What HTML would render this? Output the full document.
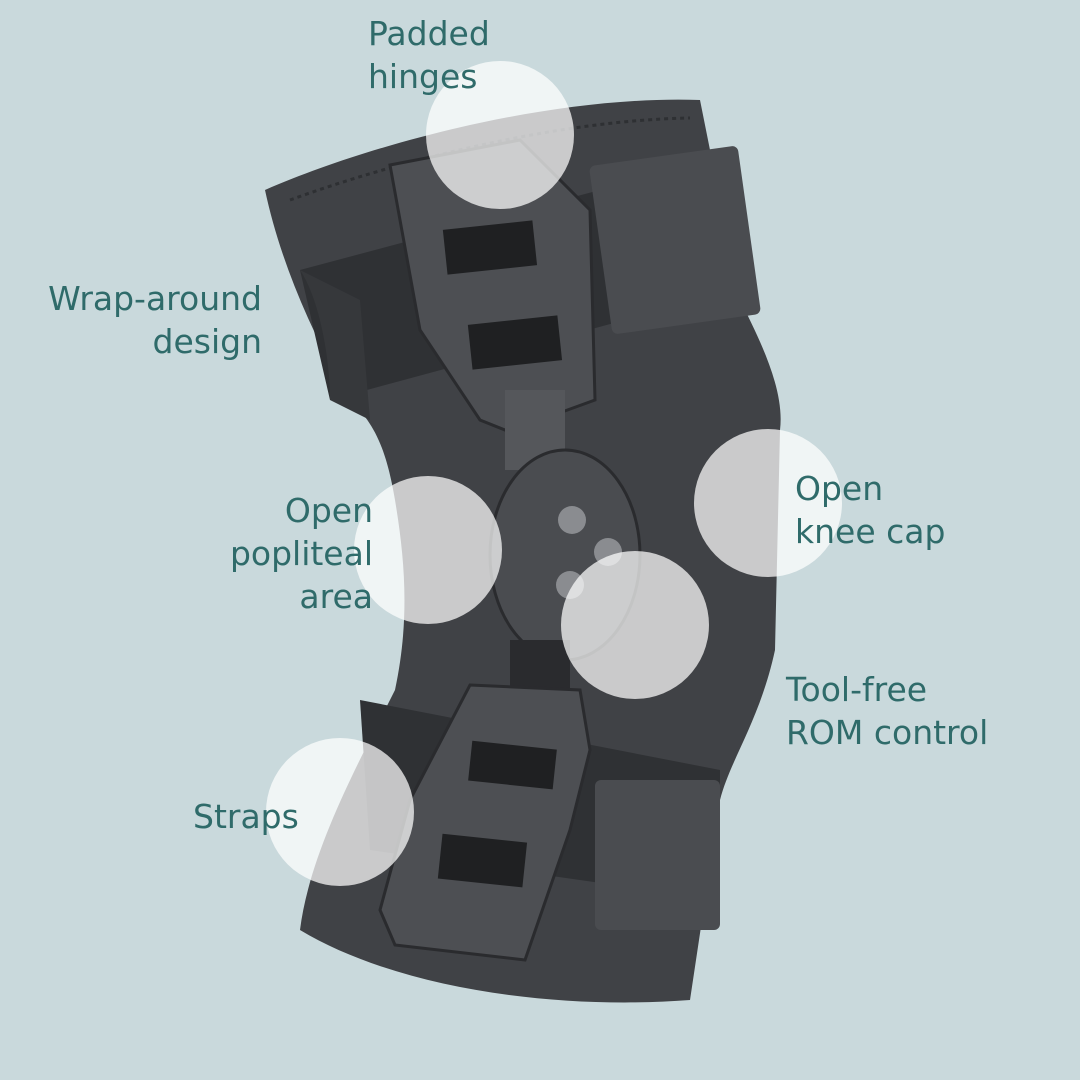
<!DOCTYPE html>
<html><head><meta charset="utf-8"><style>
html,body{margin:0;padding:0;width:1080px;height:1080px;overflow:hidden;background:#c9d9dc}
svg{display:block}
text{font-family:"DejaVu Sans","Liberation Sans",sans-serif;font-size:33px;fill:#2f6b6a}
</style></head><body>
<svg width="1080" height="1080" viewBox="0 0 1080 1080">
<rect width="1080" height="1080" fill="#c9d9dc"/>
<!-- brace body -->
<path d="M265,190 C380,140 560,95 700,100 L740,300 C760,340 785,390 780,430 L775,650 C760,720 730,760 720,800 L690,1000 C560,1010 400,990 300,930 C310,850 360,760 395,690 C410,620 405,560 395,500 C385,440 370,420 350,400 C310,330 280,260 265,190 Z" fill="#404246"/>
<path d="M290,200 C400,160 560,120 690,118" stroke="#2e3033" stroke-width="3" fill="none" stroke-dasharray="4 4"/>
<!-- upper strap -->
<path d="M300,270 L600,190 L625,320 L330,400 Z" fill="#2f3134"/>
<path d="M300,270 C320,300 330,360 330,400 L370,420 L360,300 Z" fill="#36383b"/>
<rect x="600" y="155" width="150" height="170" rx="6" fill="#4a4c50" transform="rotate(-8 675 240)"/>
<!-- upper hinge plate -->
<path d="M390,165 L520,140 L590,210 L595,400 L540,420 L505,430 L480,420 L420,330 Z" fill="#4d4f53" stroke="#2a2b2e" stroke-width="3"/>
<rect x="445" y="225" width="90" height="45" fill="#1f2022" transform="rotate(-6 490 248)"/>
<rect x="470" y="320" width="90" height="45" fill="#1f2022" transform="rotate(-6 515 343)"/>
<rect x="505" y="390" width="60" height="80" fill="#55575b"/>
<!-- joint -->
<ellipse cx="565" cy="555" rx="75" ry="105" fill="#4a4c50" stroke="#2a2b2e" stroke-width="3"/>
<circle cx="572" cy="520" r="14" fill="#8a8c90"/><circle cx="608" cy="552" r="14" fill="#8a8c90"/><circle cx="570" cy="585" r="14" fill="#8a8c90"/>
<!-- lower strap -->
<path d="M360,700 L720,770 L720,900 L370,850 Z" fill="#2f3134"/>
<rect x="595" y="780" width="125" height="150" rx="6" fill="#4a4c50"/>
<!-- lower bar & plate -->
<rect x="510" y="640" width="60" height="60" fill="#2a2b2e"/>
<path d="M470,685 L580,690 L590,750 L570,830 L525,960 L395,945 L380,910 L410,800 Z" fill="#4d4f53" stroke="#2a2b2e" stroke-width="3"/>
<rect x="470" y="745" width="85" height="40" fill="#1f2022" transform="rotate(6 512 765)"/>
<rect x="440" y="838" width="85" height="45" fill="#1f2022" transform="rotate(6 482 860)"/>
<!-- highlight circles -->
<g fill="#ffffff" fill-opacity="0.72">
<circle cx="500" cy="135" r="74"/>
<circle cx="428" cy="550" r="74"/>
<circle cx="768" cy="503" r="74"/>
<circle cx="635" cy="625" r="74"/>
<circle cx="340" cy="812" r="74"/>
</g>
<!-- labels -->
<text x="368" y="45">Padded</text>
<text x="368" y="88">hinges</text>
<text x="262" y="310" text-anchor="end">Wrap-around</text>
<text x="262" y="353" text-anchor="end">design</text>
<text x="373" y="522" text-anchor="end">Open</text>
<text x="373" y="565" text-anchor="end">popliteal</text>
<text x="373" y="608" text-anchor="end">area</text>
<text x="795" y="500">Open</text>
<text x="795" y="543">knee cap</text>
<text x="786" y="701">Tool-free</text>
<text x="786" y="744">ROM control</text>
<text x="193" y="828">Straps</text>
</svg>
</body></html>
